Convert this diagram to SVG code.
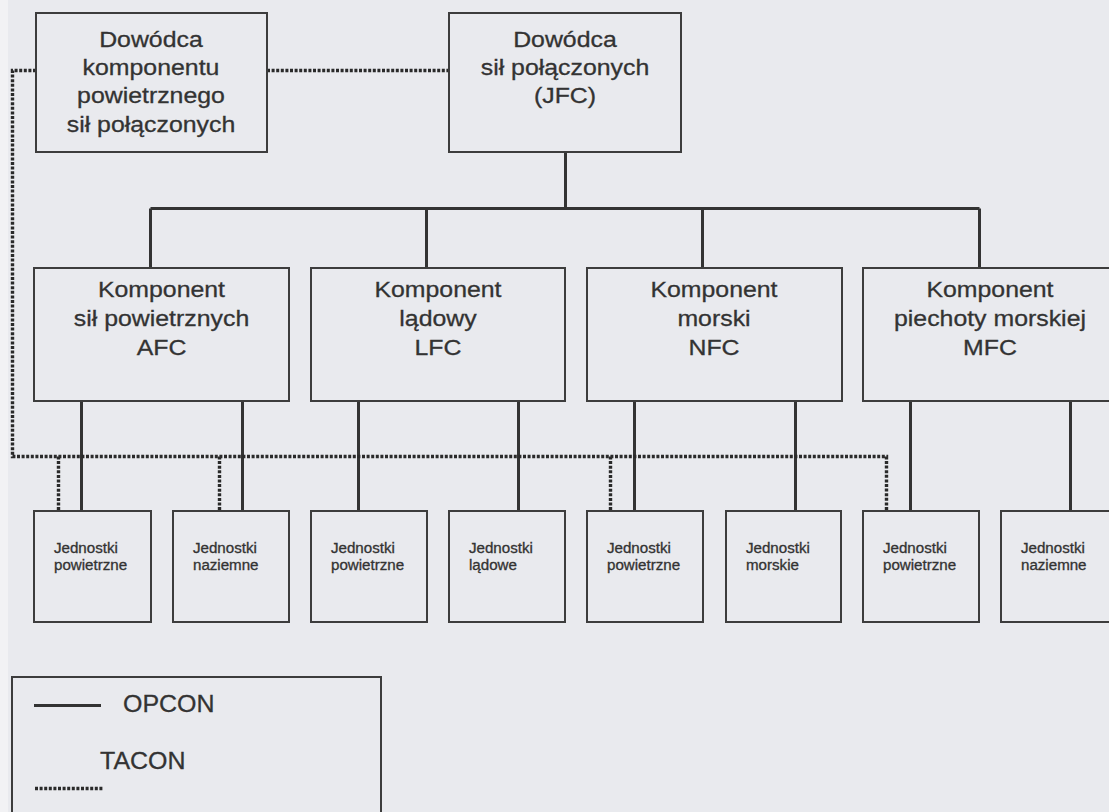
<svg xmlns="http://www.w3.org/2000/svg" width="1109" height="812" viewBox="0 0 1109 812">
  <style>
    .box { fill: none; stroke: #3d3d3d; stroke-width: 2; }
    .opcon { fill: none; stroke: #333; stroke-width: 3; }
    .tacon { fill: none; stroke: #2a2a2a; stroke-width: 3.4; stroke-dasharray: 3 1.6; }
    text { font-family: "Liberation Sans", Arial, sans-serif; fill: #333; stroke: #333; stroke-width: 0.3; transform-box: fill-box; }
    .big { font-size: 22px; text-anchor: middle; transform-origin: center; transform: scaleX(1.13); }
    .small { font-size: 14px; transform-origin: left; transform: scaleX(1.08); }
    .leg { font-size: 24px; transform-origin: left; transform: scaleX(1.04); }
  </style>

  <!-- paper -->
  <rect x="0" y="0" width="1109" height="812" fill="#e9eaee"/>
  <rect x="0" y="0" width="8" height="812" fill="#f2f2f4"/>

  <!-- connectors -->
  <g id="connectors">
    <!-- OPCON (solid) -->
    <path class="opcon" d="M565.5 152 V208.5 M150.5 208.5 H979.5 M150.5 208.5 V268 M426.5 208.5 V268 M702.5 208.5 V268 M979.5 208.5 V268"/>
    <path class="opcon" d="M81.5 401 V511 M242.5 401 V511 M358.5 401 V511 M518.5 401 V511 M634.5 401 V511 M795.5 401 V511 M910.5 401 V511 M1070.5 401 V511"/>
    <!-- TACON (dotted) -->
    <path class="tacon" d="M267 70.5 H449"/>
    <path class="tacon" d="M36 70.5 H12.5 V456.5 H886.5 V511"/>
    <path class="tacon" d="M58.5 456.5 V511 M219.5 456.5 V511 M610.5 456.5 V511"/>
  </g>

  <!-- top level -->
  <g id="jfacc">
    <rect class="box" x="36" y="13" width="231" height="139"/>
    <text class="big" x="151" y="47">Dowódca</text>
    <text class="big" x="151" y="75">komponentu</text>
    <text class="big" x="151" y="103">powietrznego</text>
    <text class="big" x="151" y="132">sił połączonych</text>
  </g>
  <g id="jfc">
    <rect class="box" x="449" y="13" width="232" height="139"/>
    <text class="big" x="565" y="47">Dowódca</text>
    <text class="big" x="565" y="75">sił połączonych</text>
    <text class="big" x="565" y="103">(JFC)</text>
  </g>

  <!-- components -->
  <g id="afc">
    <rect class="box" x="34" y="268" width="255" height="133"/>
    <text class="big" x="161.5" y="297">Komponent</text>
    <text class="big" x="161.5" y="326">sił powietrznych</text>
    <text class="big" x="161.5" y="355">AFC</text>
  </g>
  <g id="lfc">
    <rect class="box" x="311" y="268" width="254" height="133"/>
    <text class="big" x="438" y="297">Komponent</text>
    <text class="big" x="438" y="326">lądowy</text>
    <text class="big" x="438" y="355">LFC</text>
  </g>
  <g id="nfc">
    <rect class="box" x="587" y="268" width="255" height="133"/>
    <text class="big" x="714" y="297">Komponent</text>
    <text class="big" x="714" y="326">morski</text>
    <text class="big" x="714" y="355">NFC</text>
  </g>
  <g id="mfc">
    <rect class="box" x="863" y="268" width="254" height="133"/>
    <text class="big" x="990" y="297">Komponent</text>
    <text class="big" x="990" y="326">piechoty morskiej</text>
    <text class="big" x="990" y="355">MFC</text>
  </g>

  <!-- units -->
  <g id="afc-air">
    <rect class="box" x="34" y="511" width="117" height="111"/>
    <text class="small" x="54" y="553">Jednostki</text>
    <text class="small" x="54" y="570">powietrzne</text>
  </g>
  <g id="afc-ground">
    <rect class="box" x="173" y="511" width="116" height="111"/>
    <text class="small" x="193" y="553">Jednostki</text>
    <text class="small" x="193" y="570">naziemne</text>
  </g>
  <g id="lfc-air">
    <rect class="box" x="311" y="511" width="116" height="111"/>
    <text class="small" x="331" y="553">Jednostki</text>
    <text class="small" x="331" y="570">powietrzne</text>
  </g>
  <g id="lfc-land">
    <rect class="box" x="449" y="511" width="116" height="111"/>
    <text class="small" x="469" y="553">Jednostki</text>
    <text class="small" x="469" y="570">lądowe</text>
  </g>
  <g id="nfc-air">
    <rect class="box" x="587" y="511" width="116" height="111"/>
    <text class="small" x="607" y="553">Jednostki</text>
    <text class="small" x="607" y="570">powietrzne</text>
  </g>
  <g id="nfc-sea">
    <rect class="box" x="726" y="511" width="115" height="111"/>
    <text class="small" x="746" y="553">Jednostki</text>
    <text class="small" x="746" y="570">morskie</text>
  </g>
  <g id="mfc-air">
    <rect class="box" x="863" y="511" width="116" height="111"/>
    <text class="small" x="883" y="553">Jednostki</text>
    <text class="small" x="883" y="570">powietrzne</text>
  </g>
  <g id="mfc-ground">
    <rect class="box" x="1001" y="511" width="116" height="111"/>
    <text class="small" x="1021" y="553">Jednostki</text>
    <text class="small" x="1021" y="570">naziemne</text>
  </g>

  <!-- legend -->
  <g id="legend">
    <rect class="box" x="12" y="677" width="369" height="150"/>
    <line class="opcon" x1="34" y1="705.5" x2="101" y2="705.5"/>
    <text class="leg" x="123" y="712">OPCON</text>
    <text class="leg" x="100" y="769">TACON</text>
    <line class="tacon" x1="35" y1="788.5" x2="103" y2="788.5"/>
  </g>
</svg>
